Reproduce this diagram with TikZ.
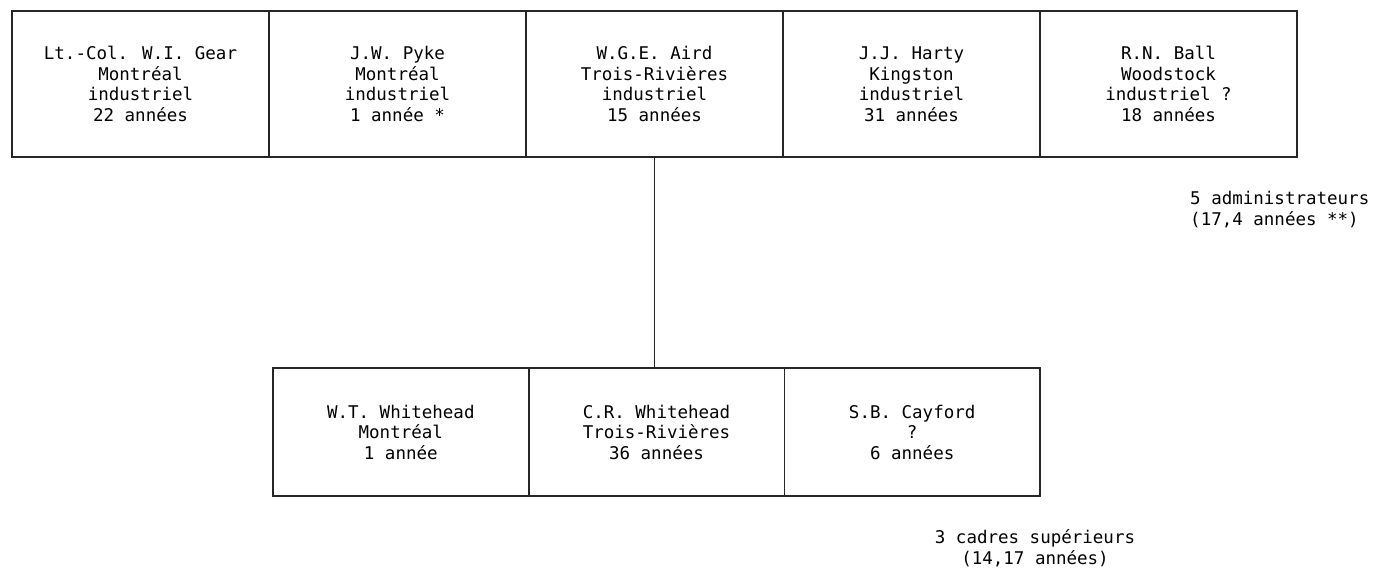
\documentclass[tikz,border=0pt]{standalone}
\usepackage{fontspec}
\setmainfont{DejaVu Sans Mono}
\usetikzlibrary{positioning}

\tikzset{
  admin/.style={draw=black!85, line width=1.7pt, minimum width=257pt, minimum height=146pt,
    inner sep=0pt, outer sep=0pt, align=center},
  cadre/.style={admin, minimum width=255.7pt, minimum height=128pt},
  note/.style={inner sep=0pt}
}

\begin{document}
\begin{tikzpicture}[x=1pt, y=-1pt, node distance=0pt, font=\fontsize{17.5}{20.5}\selectfont]
    \useasboundingbox (0,0) rectangle (1375,569);
    % conseil d'administration
    \node[admin] (gear) at (140.5,84) {Lt.-Col. W.I. Gear\\Montréal\\industriel\\22 années};
    \node[admin] (pyke) [right=of gear] {J.W. Pyke\\Montréal\\industriel\\1 année *};
    \node[admin] (aird) [right=of pyke] {W.G.E. Aird\\Trois-Rivières\\industriel\\15 années};
    \node[admin] (harty) [right=of aird] {J.J. Harty\\Kingston\\industriel\\31 années};
    \node[admin] (ball) [right=of harty] {R.N. Ball\\Woodstock\\industriel ?\\18 années};
    % cadres
    \node[cadre] (crw) at (656.5,432) {C.R. Whitehead\\Trois-Rivières\\36 années};
    \node[cadre] (wtw) [left=of crw] {W.T. Whitehead\\Montréal\\1 année};
    \node[cadre] (sbc) [right=of crw] {S.B. Cayford\\?\\6 années};
    \draw[line width=1.7pt, black!85] (aird.south) -- (aird.south |- crw.north);
    \node[note, anchor=west, align=left] (admins) at (1190,209.5) {5 administrateurs\\(17,4 années **)};
    \node[note, align=center] (cadres) at (1035,548) {3 cadres supérieurs\\(14,17 années)};
\end{tikzpicture}
\end{document}
